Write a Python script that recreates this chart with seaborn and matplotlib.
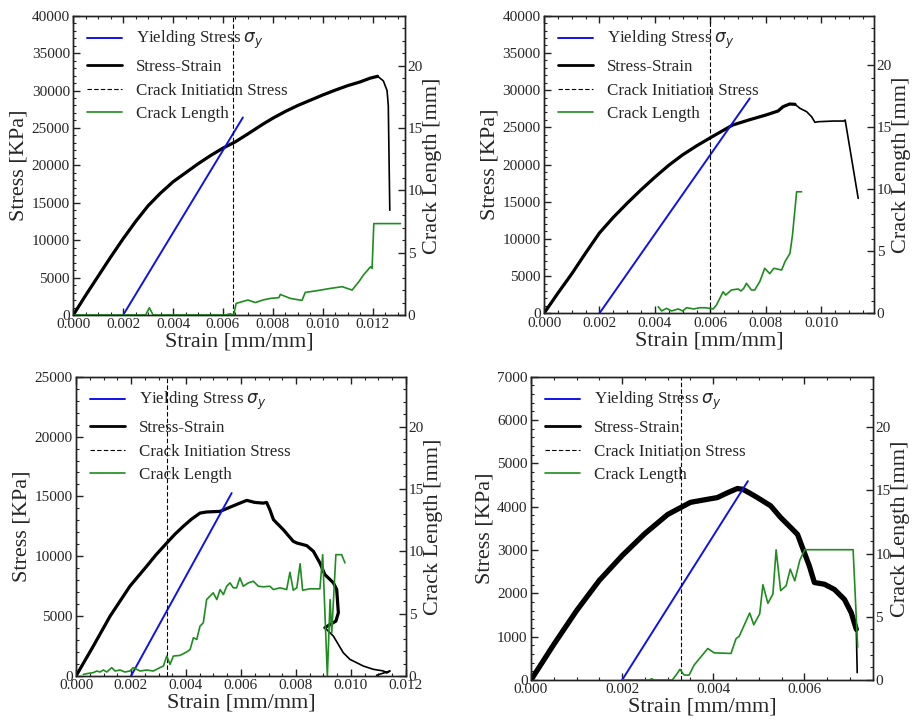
import matplotlib
matplotlib.use("Agg")
import matplotlib.pyplot as plt
import seaborn as sns
from matplotlib.ticker import AutoMinorLocator, FormatStrFormatter, MultipleLocator
from matplotlib.lines import Line2D

# ---------------- Specimen A ----------------
a_strain = [0, 0.0005, 0.001, 0.0015, 0.002, 0.0025, 0.003, 0.0035, 0.004, 0.0045,
            0.005, 0.0055, 0.006, 0.0065, 0.007, 0.0076, 0.008, 0.0085, 0.009, 0.0095,
            0.010, 0.0105, 0.011, 0.0115, 0.0119, 0.0122, 0.01243, 0.01258, 0.01263,
            0.01269]
a_stress = [0, 2650, 5200, 7750, 10200, 12500, 14600, 16300, 17800, 19000,
            20200, 21300, 22300, 23150, 24200, 25500, 26300, 27200, 28000, 28700,
            29400, 30050, 30650, 31150, 31650, 31900, 31300, 30000, 28000,
            14000]
a_yield_strain = [0.002, 0.0068]
a_yield_stress = [0, 26400]
a_crack_init = 0.0064
a_crack_strain = [0, 0.0029, 0.00305, 0.0032, 0.0061, 0.0063, 0.00643, 0.00653, 0.0070,
                  0.0073, 0.0076, 0.0079, 0.00824, 0.0083, 0.0087, 0.00917, 0.0093,
                  0.00977, 0.0103, 0.01078, 0.01118, 0.01145, 0.01165, 0.01192,
                  0.01198, 0.01205, 0.01312]
a_crack_len = [0, 0, 0.58, 0, 0, 0.1, 0, 0.93, 1.2, 1.0, 1.2, 1.33, 1.39, 1.65, 1.33,
               1.17, 1.81, 1.95, 2.13, 2.27, 2.0, 2.67, 3.25, 3.87, 3.73, 7.33, 7.33]

# ---------------- Specimen B ----------------
b_strain = [0, 0.0005, 0.001, 0.0015, 0.002, 0.0025, 0.003, 0.0035, 0.004, 0.0045,
            0.005, 0.0055, 0.006, 0.0064, 0.0068, 0.0074, 0.0080, 0.00844, 0.00862,
            0.00886, 0.00905, 0.00923, 0.00947, 0.00965, 0.00977, 0.00988, 0.01043,
            0.01081, 0.01086, 0.01133]
b_stress = [0, 2700, 5300, 8100, 10800, 12900, 14800, 16600, 18300, 19900,
            21300, 22500, 23600, 24450, 25300, 26000, 26650, 27190, 27770,
            28130, 28090, 27550, 27100, 26420, 25670, 25750, 25840,
            25840, 25980, 15450]
b_yield_strain = [0.002, 0.00742]
b_yield_stress = [0, 28890]
b_crack_init = 0.0060
b_crack_strain = [0.00412, 0.00424, 0.00442, 0.0046, 0.00484, 0.005, 0.00514, 0.0054,
                  0.00562, 0.0058, 0.00598, 0.0061, 0.00622, 0.00646, 0.00655, 0.00676,
                  0.0070, 0.0071, 0.0072, 0.0073, 0.00748, 0.0076, 0.00778, 0.00796,
                  0.00814, 0.00829, 0.00857, 0.00869, 0.00887, 0.00896, 0.00911, 0.00929]
b_crack_len = [0.53, 0.19, 0.4, 0.19, 0.35, 0.19, 0.45, 0.35, 0.45, 0.45, 0.4, 0.35,
               0.67, 1.74, 1.47, 1.88, 1.96, 1.8, 2.0, 2.42, 1.88, 1.88, 2.55, 3.63,
               3.2, 3.63, 3.49, 4.16, 4.84, 6.31, 9.8, 9.8]

# ---------------- Specimen C ----------------
c_strain = [0, 0.00063, 0.00124, 0.00196, 0.00257, 0.0029, 0.0033, 0.0036, 0.0039,
            0.0042, 0.00451, 0.00475, 0.00524, 0.0056, 0.00596, 0.00621, 0.0065,
            0.00681, 0.00693, 0.00705, 0.00718, 0.00754, 0.0079, 0.00803, 0.00839,
            0.00863, 0.00887, 0.00905, 0.00936, 0.00948, 0.00954, 0.00945, 0.00924,
            0.00905, 0.00936, 0.00972, 0.00996, 0.01045, 0.01081, 0.01118, 0.0113,
            0.01142, 0.01093]
c_stress = [0, 2500, 5000, 7500, 9170, 10100, 11110, 11850, 12500,
            13100, 13610, 13700, 13750, 14100, 14440, 14670, 14500,
            14440, 14500, 13890, 13060, 12220, 11250, 11110, 10890,
            10420, 9440, 8470, 7780, 7220, 5280, 4580, 4300,
            4030, 3330, 1940, 1390, 830, 560, 420, 250,
            420, 60]
c_yield_strain = [0.002, 0.00566]
c_yield_stress = [0, 15280]
c_crack_init = 0.0033
c_crack_strain = [0.000267, 0.000448, 0.00063, 0.000752, 0.000873, 0.000994, 0.00112,
                  0.0013, 0.00142, 0.0016, 0.00178, 0.00196, 0.00208, 0.00233, 0.00257,
                  0.00281, 0.00305, 0.00318, 0.0033, 0.00342, 0.00354, 0.00378, 0.00402,
                  0.00415, 0.00427, 0.00439, 0.00451, 0.00463, 0.00475, 0.00487, 0.00499,
                  0.00512, 0.00524, 0.00536, 0.00548, 0.0056, 0.00572, 0.00584, 0.00596,
                  0.00608, 0.00627, 0.00645, 0.00663, 0.00681, 0.00705, 0.00718, 0.00742,
                  0.00766, 0.00778, 0.0079, 0.00803, 0.00815, 0.00824, 0.00851, 0.00887,
                  0.00897, 0.00914, 0.00924, 0.0093, 0.00945, 0.00966, 0.00978]
c_crack_len = [0.13, 0.21, 0.27, 0.40, 0.32, 0.48, 0.32, 0.67, 0.40, 0.48, 0.32, 0.40,
               0.67, 0.40, 0.48, 0.40, 0.67, 0.80, 1.60, 0.93, 1.60, 1.65, 1.92, 2.13,
               3.07, 2.93, 4.00, 4.27, 6.13, 6.40, 6.67, 6.13, 6.93, 6.53, 7.20, 7.47,
               7.07, 7.07, 7.87, 7.2, 7.47, 7.6, 7.2, 7.15, 7.2, 6.93, 7.07, 6.93, 8.32,
               6.88, 7.07, 9.0, 6.88, 6.99, 6.99, 9.73, 0, 6.13, 3.47, 9.73, 9.73, 9.07]

# ---------------- Specimen D ----------------
d_strain = [0, 0.0005, 0.001, 0.0015, 0.002, 0.0025, 0.003, 0.0035, 0.00387, 0.00409,
            0.00431, 0.00453, 0.00465, 0.00479, 0.00497, 0.00526, 0.00548, 0.0057,
            0.00585, 0.006, 0.00611, 0.00622, 0.00644, 0.00666, 0.00688, 0.00703,
            0.00714, 0.00716]
d_stress = [0, 820, 1600, 2300, 2870, 3380, 3820, 4100, 4170, 4210,
            4320, 4420, 4400, 4320, 4210, 4020, 3750, 3520,
            3360, 2940, 2630, 2250, 2210, 2090, 1860, 1550,
            1170, 170]
d_yield_strain = [0.002, 0.00476]
d_yield_stress = [0, 4590]
d_crack_init = 0.0033
d_crack_strain = [0.0020, 0.0026, 0.00265, 0.0027, 0.0031, 0.00321, 0.00327, 0.00336,
                  0.00347, 0.00358, 0.00388, 0.00402, 0.00439, 0.0045, 0.00457, 0.0048,
                  0.00489, 0.00502, 0.00509, 0.0052, 0.00531, 0.00538, 0.00548, 0.0056,
                  0.00569, 0.00579, 0.0059, 0.00601, 0.00707, 0.00717]
d_crack_len = [0, 0, 0.1, 0, 0, 0.52, 0.85, 0.39, 0.39, 1.18, 2.49, 2.15, 2.1, 3.27,
               3.46, 5.3, 4.37, 5.24, 7.54, 6.07, 6.8, 10.3, 7.07, 7.46, 8.77, 7.85,
               9.48, 10.31, 10.31, 2.6]

sns.set_theme(style="ticks")
plt.rcParams["font.family"] = ["Liberation Serif", "DejaVu Sans"]
plt.rcParams["mathtext.fontset"] = "dejavusans"
plt.rcParams["axes.edgecolor"] = "#222222"
plt.rcParams["axes.linewidth"] = 1.0

W, H = 914, 722
fig = plt.figure(figsize=(W / 100, H / 100), dpi=100)

BLUE = "#1010ee"
GREEN = "#1e8c1e"
DASH = (0, (4, 2))


def px_rect(left, top, right, bottom):
    return [left / W, 1 - bottom / H, (right - left) / W, (bottom - top) / H]


def panel(rect, strain, stress, n_thick, lw_thick, ys, yv, crack_init,
          cs, cl, xmax, ymax, ystep):
    ax = fig.add_axes(rect)
    ax2 = ax.twinx()

    # stress-strain: full trace thin, the noisy part drawn heavier
    sns.lineplot(x=strain, y=stress, ax=ax, color="black", lw=1.2,
                 sort=False, estimator=None, legend=False)
    sns.lineplot(x=strain[:n_thick], y=stress[:n_thick], ax=ax, color="black",
                 lw=lw_thick, sort=False, estimator=None, legend=False)
    sns.lineplot(x=ys, y=yv, ax=ax, color=BLUE, lw=1.4, sort=False,
                 estimator=None, legend=False)
    ax.axvline(crack_init, color="black", lw=0.8, ls=DASH)

    sns.lineplot(x=cs, y=cl, ax=ax2, color=GREEN, lw=1.2, sort=False,
                 estimator=None, legend=False)

    ax.set_xlim(0, xmax)
    ax.set_ylim(0, ymax)
    ax2.set_ylim(0, 24)

    ax.xaxis.set_major_locator(MultipleLocator(0.002))
    ax.xaxis.set_major_formatter(FormatStrFormatter("%.3f"))
    ax.xaxis.set_minor_locator(AutoMinorLocator())
    ax.yaxis.set_major_locator(MultipleLocator(ystep))
    ax.yaxis.set_minor_locator(AutoMinorLocator())
    ax2.yaxis.set_major_locator(MultipleLocator(5))
    ax2.yaxis.set_minor_locator(AutoMinorLocator())

    ax.tick_params(which="both", direction="in", top=True, bottom=True,
                   left=True, right=False, labelsize=11, pad=2.5,
                   color="#222222")
    ax.tick_params(which="major", length=5, width=1)
    ax.tick_params(which="minor", length=2.5, width=0.8)
    ax2.tick_params(which="both", direction="in", right=True, left=False,
                    top=False, bottom=False, labelsize=11, pad=2,
                    color="#222222")
    ax2.tick_params(which="major", length=5, width=1)
    ax2.tick_params(which="minor", length=2.5, width=0.8)

    ax.set_xlabel("Strain [mm/mm]", fontsize=16, labelpad=1)
    ax.set_ylabel("Stress [KPa]", fontsize=16, labelpad=2)
    ax2.set_ylabel("Crack Length [mm]", fontsize=16, labelpad=0)
    ax.grid(False)
    ax2.grid(False)

    handles = [
        Line2D([], [], color=BLUE, lw=1.4),
        Line2D([], [], color="black", lw=2.0),
        Line2D([], [], color="black", lw=0.8, ls=DASH),
        Line2D([], [], color=GREEN, lw=1.2),
    ]
    labels = [r"Yielding Stress $\sigma_y$", "Stress-Strain",
              "Crack Initiation Stress", "Crack Length"]
    ax2.legend(handles, labels, loc="upper left", frameon=False, fontsize=12.2,
               handlelength=2.1, handletextpad=0.8, labelspacing=0.45,
               borderaxespad=0.4, borderpad=0.4)
    return ax, ax2


panel(px_rect(73.3, 15.7, 405, 315), a_strain, a_stress, 26, 2.3,
      a_yield_strain, a_yield_stress, a_crack_init, a_crack_strain, a_crack_len,
      0.0133, 40000, 5000)
panel(px_rect(544, 15.7, 874, 313.3), b_strain, b_stress, 21, 2.3,
      b_yield_strain, b_yield_stress, b_crack_init, b_crack_strain, b_crack_len,
      0.0119, 40000, 5000)
panel(px_rect(76, 376.7, 406, 676), c_strain, c_stress, 34, 2.3,
      c_yield_strain, c_yield_stress, c_crack_init, c_crack_strain, c_crack_len,
      0.012, 25000, 5000)
panel(px_rect(531, 376.7, 872.7, 680), d_strain, d_stress, 27, 3.8,
      d_yield_strain, d_yield_stress, d_crack_init, d_crack_strain, d_crack_len,
      0.0075, 7000, 1000)

fig.savefig("out.png", dpi=100)
